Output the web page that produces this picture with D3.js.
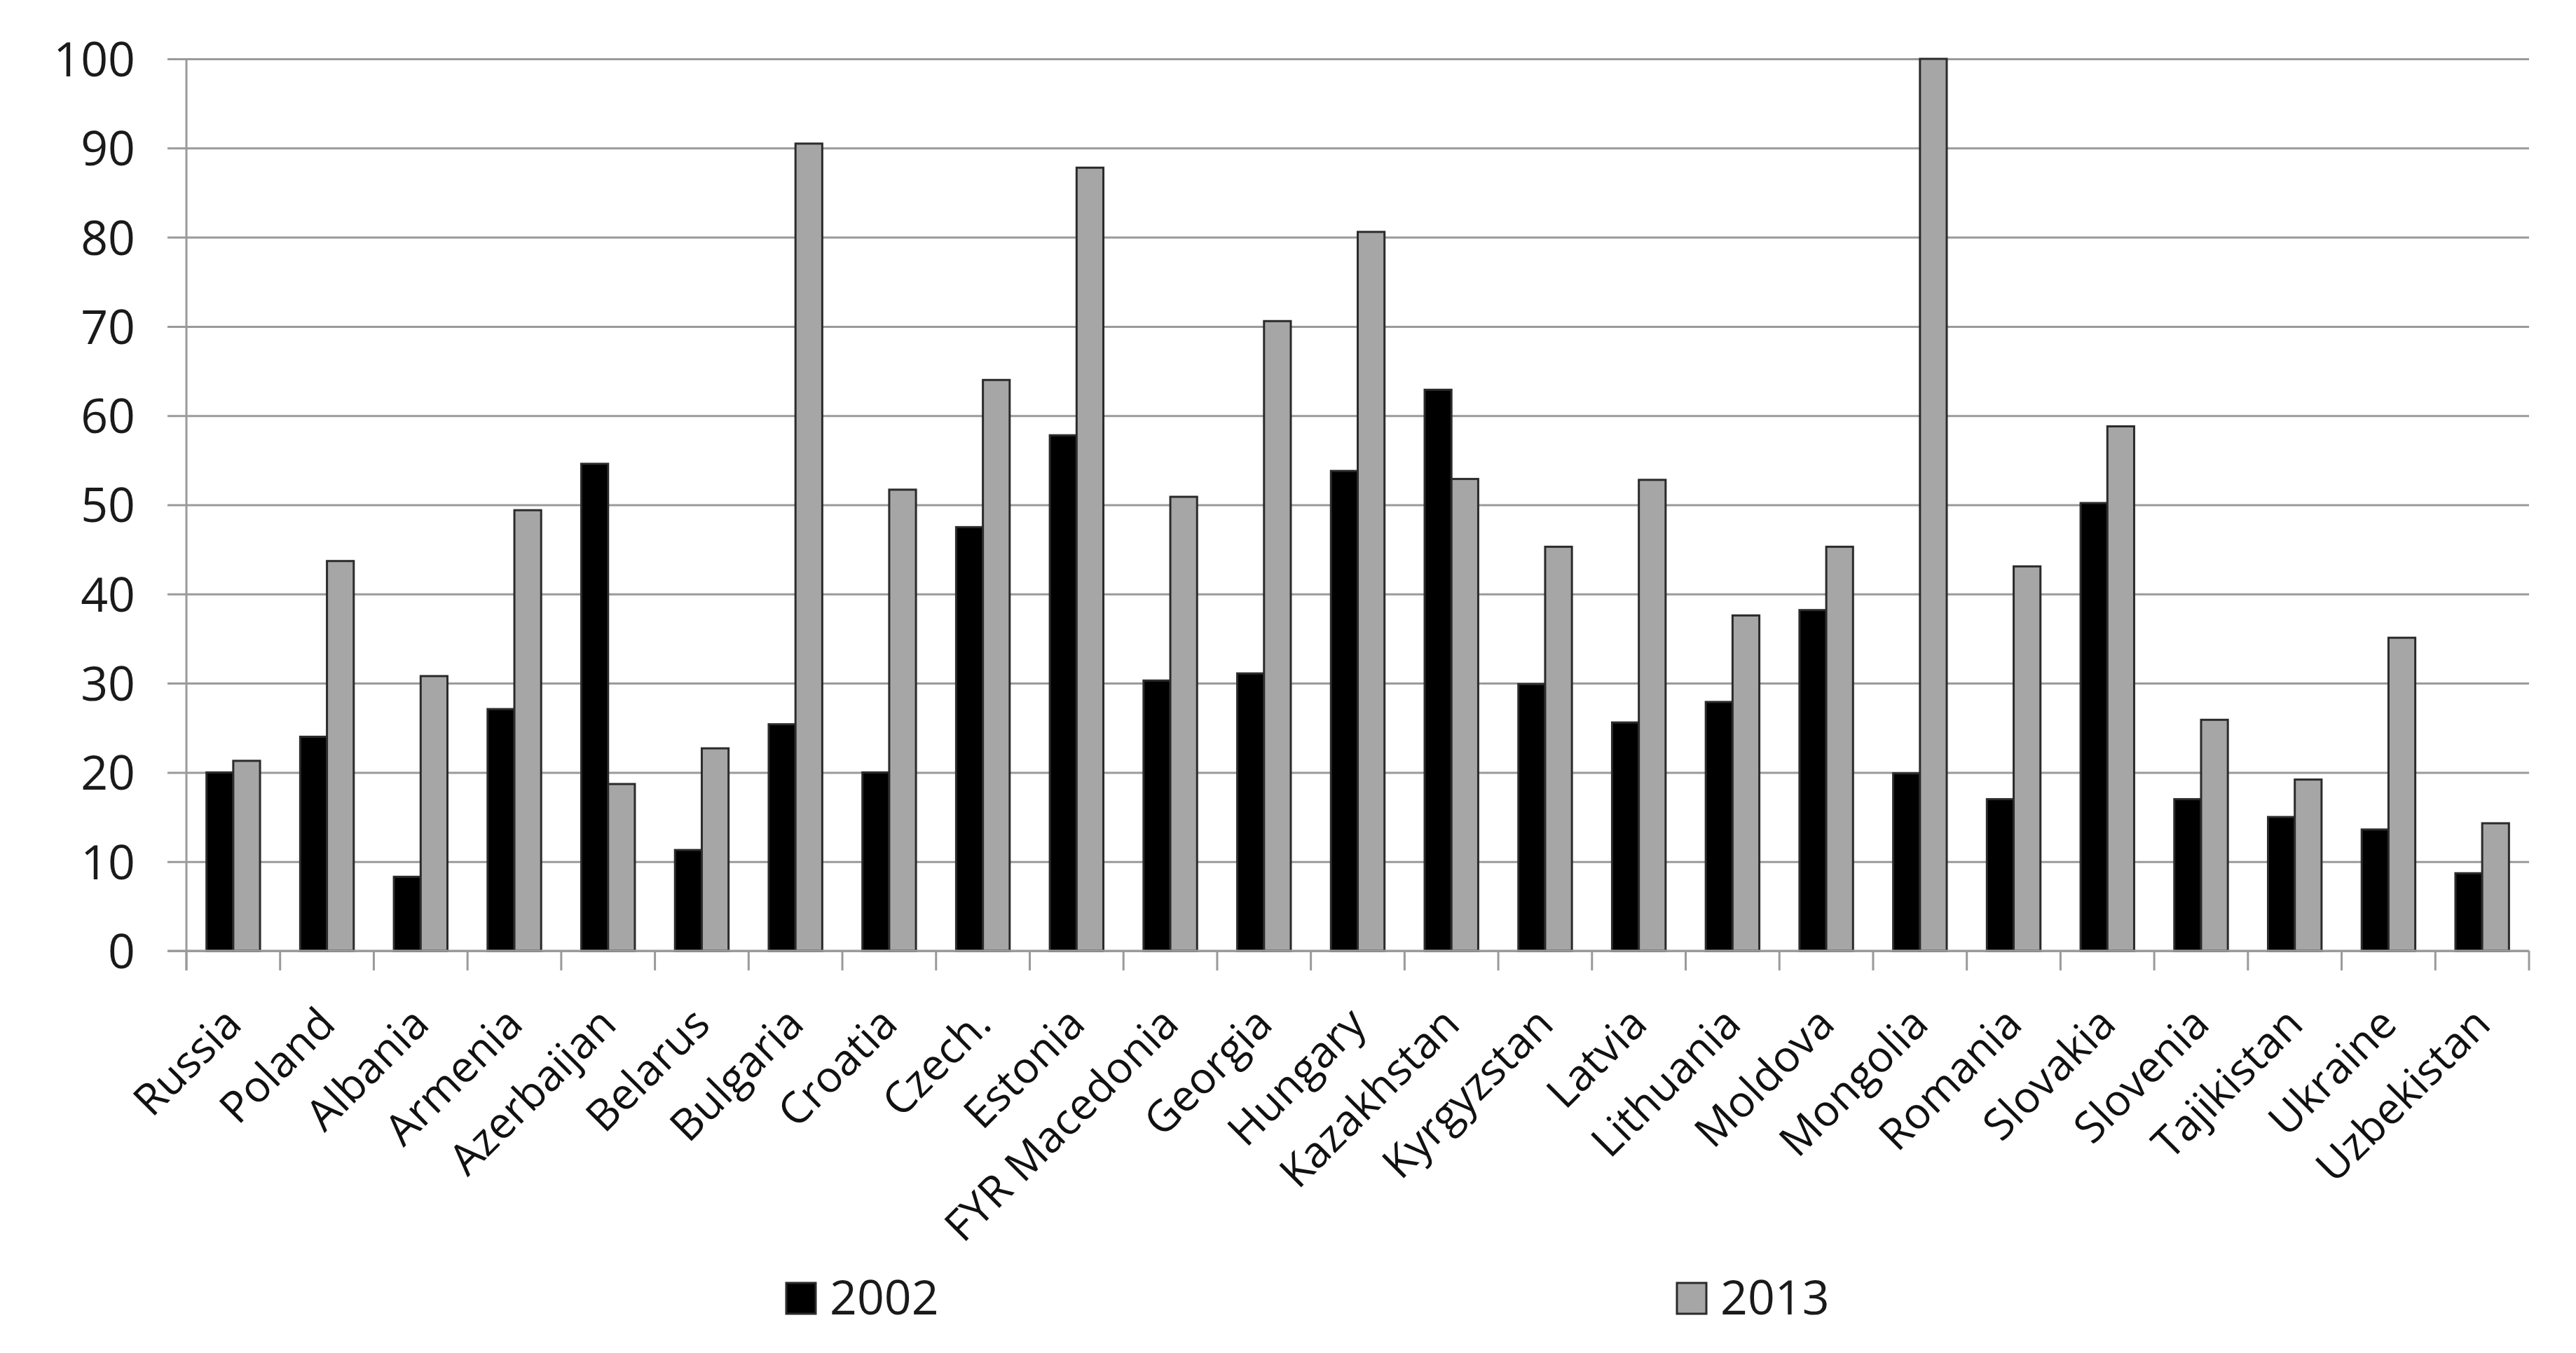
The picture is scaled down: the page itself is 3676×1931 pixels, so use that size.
<!DOCTYPE html>
<html>
<head>
<meta charset="utf-8">
<script src="https://cdn.jsdelivr.net/npm/d3@7"></script>
<style>
  html, body { margin: 0; padding: 0; background: #fff; }
  svg { display: block; }
</style>
</head>
<body>
<script>
const categories = ["Russia","Poland","Albania","Armenia","Azerbaijan","Belarus","Bulgaria","Croatia","Czech.","Estonia","FYR Macedonia","Georgia","Hungary","Kazakhstan","Kyrgyzstan","Latvia","Lithuania","Moldova","Mongolia","Romania","Slovakia","Slovenia","Tajikistan","Ukraine","Uzbekistan"];
const seriesNames = ["2002","2013"];
const values2002 = [20.0,24.0,8.3,27.1,54.6,11.3,25.4,20.0,47.5,57.8,30.3,31.1,53.8,62.9,29.9,25.6,27.9,38.2,19.9,17.0,50.2,17.0,15.0,13.6,8.7];
const values2013 = [21.3,43.7,30.8,49.4,18.7,22.7,90.5,51.7,64.0,87.8,50.9,70.6,80.6,52.9,45.3,52.8,37.6,45.3,100,43.1,58.8,25.9,19.2,35.1,14.3];
const yTicks = [0,10,20,30,40,50,60,70,80,90,100];

(function () {
const W = 3676, H = 1931;
const pLeft = 266, pRight = 3609, pTop = 84, pBottom = 1357;
const fontFam = "'Open Sans', 'DejaVu Sans', sans-serif";
const colors = {"2002": "#000000", "2013": "#a6a6a6"};

const svg = d3.select("body").append("svg").attr("width", W).attr("height", H);
svg.append("rect").attr("width", W).attr("height", H).attr("fill", "#fff");

const x = d3.scaleBand().domain(categories).range([pLeft, pRight]).paddingInner(0).paddingOuter(0);
const xs = d3.scaleBand().domain(seriesNames).range([0, x.bandwidth()]).paddingInner(0).paddingOuter(0.75);
const y = d3.scaleLinear().domain([0, 100]).range([pBottom, pTop]);

// gridlines + y tick labels
const gy = svg.append("g").attr("transform", `translate(${pRight},0)`).call(
  d3.axisLeft(y).tickValues(yTicks).tickSize(pRight - pLeft + 27).tickFormat(d3.format("d")).tickPadding(46)
);
gy.select(".domain").remove();
gy.selectAll(".tick line").attr("stroke", "#9a9a9a").attr("stroke-width", 3);
gy.selectAll(".tick text").attr("font-family", fontFam).attr("font-size", 68).attr("fill", "#1a1a1a").attr("dy", "0.36em");

// y axis line
svg.append("line").attr("x1", pLeft).attr("x2", pLeft).attr("y1", pTop).attr("y2", pBottom + 28)
  .attr("stroke", "#9a9a9a").attr("stroke-width", 3);

// x axis ticks at category boundaries
const boundaries = categories.map(c => x(c)).concat([pRight]);
svg.append("g").selectAll("line").data(boundaries).join("line")
  .attr("x1", d => d).attr("x2", d => d).attr("y1", pBottom).attr("y2", pBottom + 28)
  .attr("stroke", "#9a9a9a").attr("stroke-width", 3);

// bars
const data = [];
categories.forEach((c, i) => {
  data.push({c, s: "2002", v: values2002[i]});
  data.push({c, s: "2013", v: values2013[i]});
});
svg.append("g").selectAll("rect").data(data).join("rect")
  .attr("x", d => x(d.c) + xs(d.s))
  .attr("width", xs.bandwidth())
  .attr("y", d => y(d.v))
  .attr("height", d => y(0) - y(d.v))
  .attr("fill", d => colors[d.s])
  .attr("stroke", "#2b2b2b")
  .attr("stroke-width", 3);

// x axis baseline
svg.append("line").attr("x1", pLeft - 27).attr("x2", pRight).attr("y1", pBottom).attr("y2", pBottom)
  .attr("stroke", "#9a9a9a").attr("stroke-width", 3);

// category labels
svg.append("g").selectAll("text").data(categories).join("text")
  .attr("transform", d => `translate(${x(d) + x.bandwidth() / 2 + 15},${pBottom + 108}) rotate(-45)`)
  .attr("text-anchor", "end")
  .attr("font-family", fontFam).attr("font-size", 62).attr("fill", "#111")
  .text(d => d);

// legend
const legendItems = [{s: "2002", x: 1122}, {s: "2013", x: 2393}];
const lg = svg.append("g");
legendItems.forEach(it => {
  lg.append("rect").attr("x", it.x).attr("y", 1831).attr("width", 42).attr("height", 44)
    .attr("fill", colors[it.s]).attr("stroke", "#2b2b2b").attr("stroke-width", 3);
  lg.append("text").attr("x", it.x + 62).attr("y", 1876)
    .attr("font-family", fontFam).attr("font-size", 68).attr("fill", "#1a1a1a")
    .text(it.s);
});
})();
</script>
</body>
</html>
